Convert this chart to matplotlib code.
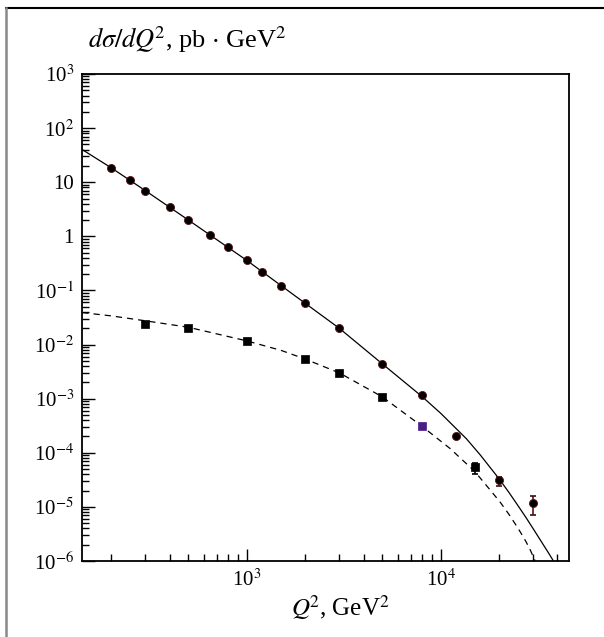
import math
import matplotlib
matplotlib.use("Agg")
import matplotlib.pyplot as plt
from matplotlib.ticker import LogLocator, FixedLocator, FuncFormatter, NullFormatter
from matplotlib.lines import Line2D

plt.rcParams['font.family'] = ['Liberation Serif', 'DejaVu Serif']
plt.rcParams['mathtext.fontset'] = 'stix'

# measured points (circles, upper series)
q2_circ = [200, 250, 300, 400, 500, 650, 800, 1000, 1200, 1500, 2000, 3000,
           5000, 8000, 12000, 20000, 30000]
xs_circ = [18.5, 10.8, 6.96, 3.48, 2.0, 1.04, 0.634, 0.365, 0.222, 0.119, 0.0585,
           0.020, 0.0043, 0.00118, 2.04e-4, 3.13e-5, 1.16e-5]
circ_hi = [18.5, 10.8, 6.96, 3.48, 2.0, 1.04, 0.634, 0.365, 0.222, 0.119, 0.0585,
           0.020, 0.0043, 0.00118, 2.04e-4, 3.6e-5, 1.58e-5]
circ_lo = [18.5, 10.8, 6.96, 3.48, 2.0, 1.04, 0.634, 0.365, 0.222, 0.119, 0.0585,
           0.020, 0.0043, 0.00118, 2.04e-4, 2.43e-5, 7.05e-6]

# measured points (squares, lower series)
q2_sq = [300, 500, 1000, 2000, 3000, 5000, 8000, 15000]
xs_sq = [0.0236, 0.0204, 0.0117, 0.0054, 0.00297, 0.00107, 3.12e-4, 5.4e-5]
sq_hi = [0.0236, 0.0204, 0.0117, 0.0054, 0.00297, 0.00107, 3.12e-4, 6.4e-5]
sq_lo = [0.0236, 0.0204, 0.0117, 0.0054, 0.00297, 0.00107, 3.12e-4, 4.0e-5]
sq_colors = ['black', 'black', 'black', 'black', 'black', 'black', '#4a1c86', 'black']

# theory curves
q2_solid = [142, 200, 300, 500, 1000, 2000, 3000, 5000, 8000, 10000, 13600, 16000,
            20000, 22500, 25000, 27500, 30000, 33000, 36000, 38000]
xs_solid = [40, 18.5, 7.0, 2.0, 0.36, 0.058, 0.0200, 0.0044, 0.00110, 5.37e-4,
            1.8e-4, 9.1e-5, 3.3e-5, 1.84e-5, 1.06e-5, 6.38e-6, 3.93e-6, 2.29e-6,
            1.4e-6, 1.02e-6]
q2_dash = [142, 200, 300, 500, 1000, 1500, 2000, 3000, 5000, 8000, 11170, 15000,
           20200, 22500, 25100, 27500, 29000, 30500, 30700]
xs_dash = [0.039, 0.0339, 0.0275, 0.0209, 0.0117, 0.00783, 0.0054, 0.0030, 0.00108,
           3.1e-4, 1.2e-4, 4.5e-5, 1.24e-5, 7.24e-6, 3.98e-6, 2.29e-6, 1.58e-6,
           1.05e-6, 1.0e-6]

ytick_vals = [1e3, 1e2, 1e1, 1, 1e-1, 1e-2, 1e-3, 1e-4, 1e-5, 1e-6]
ytick_text = ['10$^{3}$', '10$^{2}$', '10', '1', '10$^{-1}$', '10$^{-2}$', '10$^{-3}$',
              '10$^{-4}$', '10$^{-5}$', '10$^{-6}$']


def main():
    fig = plt.figure(figsize=(6.04, 6.37), dpi=100)
    ax = fig.add_axes([0.1363, 0.1193, 0.8062, 0.7645])

    ax.plot(q2_solid, xs_solid, color='black', lw=0.9)
    ax.plot(q2_dash, xs_dash, color='black', lw=0.9, ls=(0, (5, 4)))

    ax.vlines(q2_circ, circ_lo, circ_hi, color='#5a1414', lw=1.2)
    for x, lo, hi in zip(q2_circ, circ_lo, circ_hi):
        if hi > lo:
            ax.plot([x, x], [lo, hi], ls='none', marker='_', ms=5, mew=1.2, color='#3a1010')
    ax.plot(q2_circ, xs_circ, ls='none', marker='o', ms=5.8, mfc='black',
            mec='#5a1414', mew=0.6)

    ax.vlines(q2_sq, sq_lo, sq_hi, color='black', lw=1.2)
    for x, lo, hi in zip(q2_sq, sq_lo, sq_hi):
        if hi > lo:
            ax.plot([x, x], [lo, hi], ls='none', marker='_', ms=5, mew=1.2, color='black')
    ax.scatter(q2_sq, xs_sq, marker='s', s=32, c=sq_colors, edgecolors=sq_colors,
               linewidths=0.5, zorder=3)

    ax.set_xscale('log')
    ax.set_yscale('log')
    ax.set_xlim(142, 46000)
    ax.set_ylim(1e-6, 1e3)

    ax.xaxis.set_major_locator(FixedLocator([1e3, 1e4]))
    ax.xaxis.set_major_formatter(FuncFormatter(
        lambda v, p: '10$^{%d}$' % round(math.log10(v))))
    ax.xaxis.set_minor_locator(LogLocator(base=10, subs=range(2, 10), numticks=20))
    ax.xaxis.set_minor_formatter(NullFormatter())

    ax.yaxis.set_major_locator(FixedLocator(ytick_vals))
    ax.set_yticklabels(ytick_text)
    ax.yaxis.set_minor_locator(LogLocator(base=10, subs=range(2, 10), numticks=20))
    ax.yaxis.set_minor_formatter(NullFormatter())

    ax.tick_params(which='both', direction='in', top=False, right=False,
                   labelsize=15, width=1.0)
    ax.tick_params(which='major', length=9, pad=6)
    ax.tick_params(which='minor', length=5)
    for s in ax.spines.values():
        s.set_linewidth(1.3)

    ax.set_xlabel(r'$Q^{\!2}$, GeV$^{2}$', fontsize=18, labelpad=0)
    ax.xaxis.set_label_coords(0.53, -0.065)
    fig.text(0.145, 0.938, r'$d\sigma/dQ^{\!2}$, pb $\cdot$ GeV$^{2}$', fontsize=19,
             ha='left', va='center')

    # page frame (top and left edges)
    fig.add_artist(Line2D([6 / 604, 1], [1 - 8 / 637, 1 - 8 / 637],
                          transform=fig.transFigure, color='black', lw=1.5))
    fig.add_artist(Line2D([6 / 604, 6 / 604], [0, 1 - 8 / 637],
                          transform=fig.transFigure, color='#888888', lw=1.8))

    fig.savefig('out.png', dpi=100)


if __name__ == "__main__":
    main()
